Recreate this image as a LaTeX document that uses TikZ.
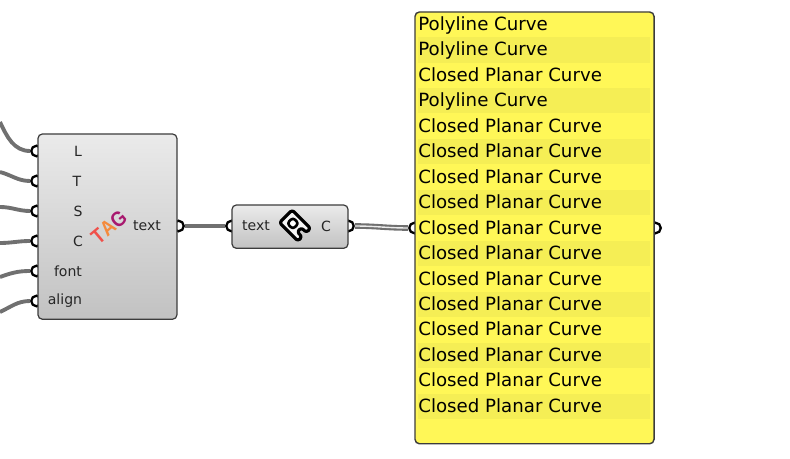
\documentclass[tikz,border=0pt]{standalone}
\usepackage{fontspec}
\setmainfont{DejaVu Sans}
\newfontfamily\tagfont{Liberation Sans}
\definecolor{wiregray}{HTML}{707070}
\definecolor{framegray}{HTML}{3C3C3C}
\definecolor{panelyellow}{HTML}{FFF757}
\definecolor{rowyellow}{HTML}{F5EE55}
\definecolor{tagred}{HTML}{F0504A}
\definecolor{tagorange}{HTML}{F58A3C}
\definecolor{tagpurple}{HTML}{A8186E}
\tikzset{
  wire/.style={wiregray, line width=2.2pt},
  doublewire/.style={wiregray, line width=1.2pt, double=white!85!gray, double distance=0.8pt},
  grip/.style={circle, draw=black, fill=white, line width=1.3pt, minimum size=6pt, inner sep=0pt},
  compbox/.style={draw=framegray, line width=0.7pt, rounded corners=2.5pt, top color=gray!16, bottom color=gray!48, anchor=north west, inner sep=0pt, outer sep=0pt},
  panelbox/.style={draw=framegray, line width=0.8pt, rounded corners=2.5pt, fill=panelyellow, anchor=north west, inner sep=0pt, outer sep=0pt},
  lbl/.style={font=\fontsize{8pt}{10pt}\selectfont, text=black!85, inner sep=0pt},
  rowlbl/.style={font=\fontsize{10.35pt}{12pt}\selectfont, text=black, anchor=base west, inner sep=0pt},
  rowband/.style={fill=rowyellow, draw=none, minimum width=132pt, minimum height=14.4pt, anchor=west, inner sep=0pt}
}
\begin{document}
\begin{tikzpicture}[x=0.02cm, y=-0.02cm]
\useasboundingbox (0,0) rectangle (790,459);
% free ends of the incoming wires
\coordinate (e1) at (0,122);
\coordinate (e2) at (0,172);
\coordinate (e3) at (0,207);
\coordinate (e4) at (0,243);
\coordinate (e5) at (0,277);
\coordinate (e6) at (0,312);
% grips
\foreach \n/\y in {1/151,2/181,3/211,4/241,5/271,6/301}
{
  \node[grip] (in\n) at (36.5,\y) {};
}
\node[grip] (tagout) at (178.5,226) {};
\node[grip] (textin) at (231.5,226) {};
\node[grip] (textout) at (348.5,226) {};
\node[grip] (panelin) at (414.5,228) {};
\node[grip] (panelout) at (655.5,228) {};
% wires
\draw[wire] (e1) to[out=-65,in=180] (in1);
\draw[wire] (e2) to[out=-15,in=180] (in2);
\draw[wire] (e3) to[out=0,in=180] (in3);
\draw[wire] (e4) to[out=0,in=180] (in4);
\draw[wire] (e5) to[out=20,in=180] (in5);
\draw[wire] (e6) to[out=25,in=180] (in6);
\draw[wire] (tagout) to (textin);
\draw[doublewire] (textout) to[out=0,in=180] (panelin);
% boxes
\node[compbox, minimum width=139.5*0.5669pt, minimum height=186*0.5669pt] (tagbox) at (38,134) {};
\node[compbox, minimum width=116.5*0.5669pt, minimum height=43.5*0.5669pt] (textbox) at (232,205) {};
\node[panelbox, minimum width=240*0.5669pt, minimum height=433.5*0.5669pt] (panel) at (415,12) {};
% input names
\foreach \n/\t/\x/\y in {l/L/78/151,t/T/77/181,s/S/78/211,c/C/78/241,f/font/68/271,a/align/65/301}
{
  \node[lbl] (name\n) at (\x,\y) {\t};
}
\node[lbl] (tagname) at (147,226) {text};
\node[lbl] (textname) at (256,226) {text};
\node[lbl] (cname) at (326,226) {C};
\node[font=\tagfont\fontsize{12pt}{12pt}\selectfont\bfseries, rotate=40, xscale=.88, inner sep=0pt] (tagicon) at (109,227) {\textcolor{tagred}{T}\textcolor{tagorange}{A}\textcolor{tagpurple}{G}};
% curve icon
\begin{scope}[shift={(295,225.5)}, rotate=-45, line join=round]
\draw[black, line width=1.8pt, rounded corners=1.5pt, fill=white!92!gray] (-13,-9) -- (13,-9) -- (13,-3) -- (6,-3) -- (6,3) -- (13,3) -- (13,9) -- (-13,9) -- cycle;
\draw[black, line width=1.5pt, rounded corners=1.5pt, fill=white] (-7,-4) rectangle (1,4);
\end{scope}
% panel rows
\foreach \r/\t in {0/Polyline Curve,1/Polyline Curve,2/Closed Planar Curve,3/Polyline Curve,4/Closed Planar Curve,5/Closed Planar Curve,6/Closed Planar Curve,7/Closed Planar Curve,8/Closed Planar Curve,9/Closed Planar Curve,10/Closed Planar Curve,11/Closed Planar Curve,12/Closed Planar Curve,13/Closed Planar Curve,14/Closed Planar Curve,15/Closed Planar Curve}
{
  \pgfmathsetmacro{\rowy}{24.5+25.45*\r}
  \pgfmathsetmacro{\basey}{30.5+25.45*\r}
  \pgfmathtruncatemacro{\odd}{mod(\r,2)}
  \ifnum\odd=1
    \node[rowband] (band\r) at (418,\rowy) {};
  \fi
  \node[rowlbl] (row\r) at (418,\basey) {\t};
}
\end{tikzpicture}
\end{document}
